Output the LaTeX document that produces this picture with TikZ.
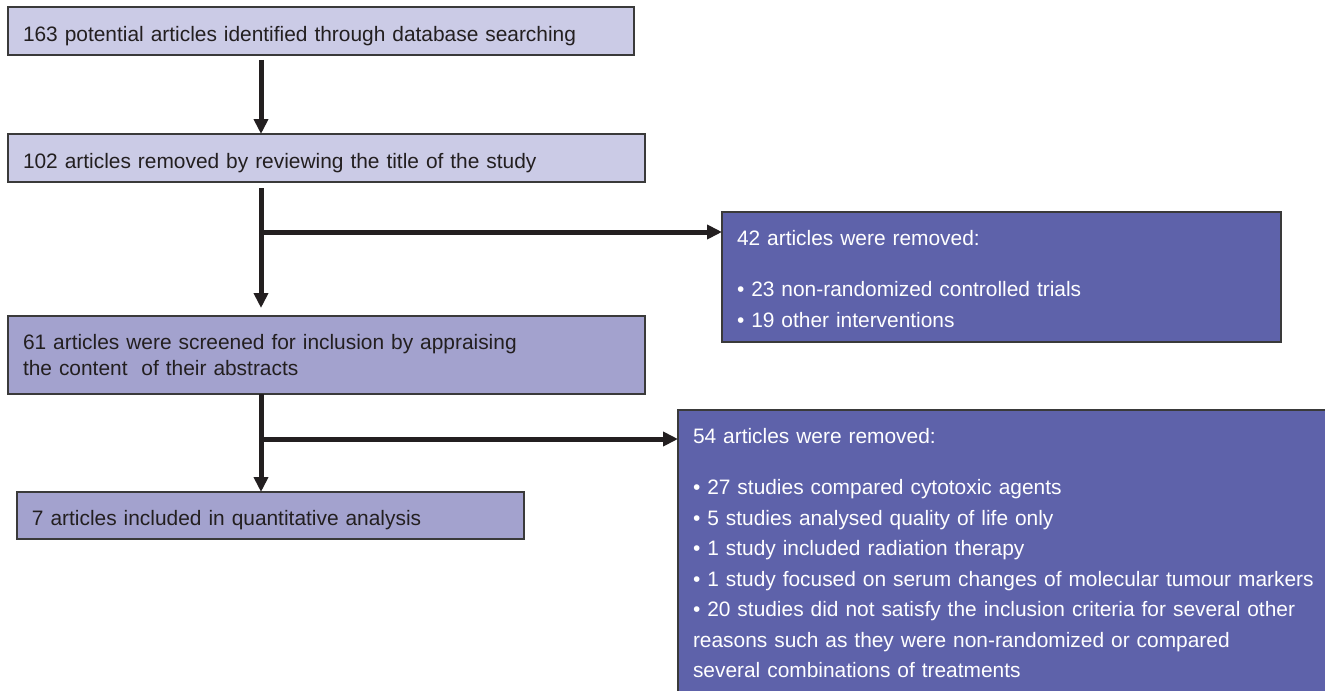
\documentclass[tikz,border=0pt]{standalone}
\usepackage{fontspec}
\setmainfont{Liberation Sans}
\usetikzlibrary{arrows.meta}
\definecolor{lightbox}{HTML}{CBCBE6}
\definecolor{midbox}{HTML}{A3A2CE}
\definecolor{darkbox}{HTML}{5E62AA}
\definecolor{inkgray}{HTML}{231F20}
\definecolor{edgegray}{HTML}{3A3A3A}
\begin{document}
\begin{tikzpicture}[x=0.5pt,y=-0.5pt,
            box/.style={draw=edgegray,line width=0.7pt,anchor=north west,
                align=left,inner xsep=7.5pt,inner ysep=0pt,outer sep=0pt,
                text=inkgray,font=\fontsize{10.45}{13}\selectfont},
            lightstep/.style={box,fill=lightbox},
            midstep/.style={box,fill=midbox},
            removed/.style={box,fill=darkbox,text=white,
                font=\fontsize{10.45}{15.25}\selectfont},
            arr/.style={draw=inkgray,line width=2.5pt,
                -{Triangle[length=7.5pt,width=7pt]}}]
            \useasboundingbox (0,0) rectangle (1325,690);
            % Boxes
            \node[lightstep,text width=298pt,text height=17.35pt,text depth=6.65pt]
                (found) at (8,7) {163 potential articles identified through database searching};
            \node[lightstep,text width=303.5pt,text height=17.15pt,text depth=6.85pt]
                (title) at (8,134) {102 articles removed by reviewing the title of the study};
            \node[midstep,text width=303.5pt,text height=16.5pt,text depth=22.5pt]
                (abstract) at (8,316) {61 articles were screened for inclusion by appraising\\
                the content\ \ of their abstracts};
            \node[midstep,text width=238.5pt,text height=16.5pt,text depth=7pt]
                (included) at (17,492) {7 articles included in quantitative analysis};
            \node[removed,text width=264.5pt,text height=16.5pt,text depth=48.5pt]
                (out42) at (722,212) {42 articles were removed:\\[10.5pt]
                • 23 non-randomized controlled trials\\
                • 19 other interventions};
            \node[removed,text width=309pt,text height=16.5pt,text depth=124.5pt]
                (out54) at (678,410) {54 articles were removed:\\[10.5pt]
                • 27 studies compared cytotoxic agents\\
                • 5 studies analysed quality of life only\\
                • 1 study included radiation therapy\\
                \mbox{• 1 study focused on serum changes of molecular tumour markers}\\
                \mbox{• 20 studies did not satisfy the inclusion criteria for several other}\\
                reasons such as they were non-randomized or compared\\
                several combinations of treatments};
            % Arrows
            \coordinate (spine) at (261,0);
            \coordinate (in42) at ([yshift=-10pt]out42.north west);
            \coordinate (in54) at ([yshift=-14.5pt]out54.north west);
            \draw[arr] ([yshift=-2.5pt]found.south -| spine) -- (title.north -| spine);
            \draw[arr] ([yshift=-3pt]title.south -| spine) -- ([yshift=4pt]abstract.north -| spine);
            \draw[arr] (in42 -| spine) -- (in42);
            \draw[arr] (abstract.south -| spine) -- (included.north -| spine);
            \draw[arr] (in54 -| spine) -- (in54);
\end{tikzpicture}
\end{document}
